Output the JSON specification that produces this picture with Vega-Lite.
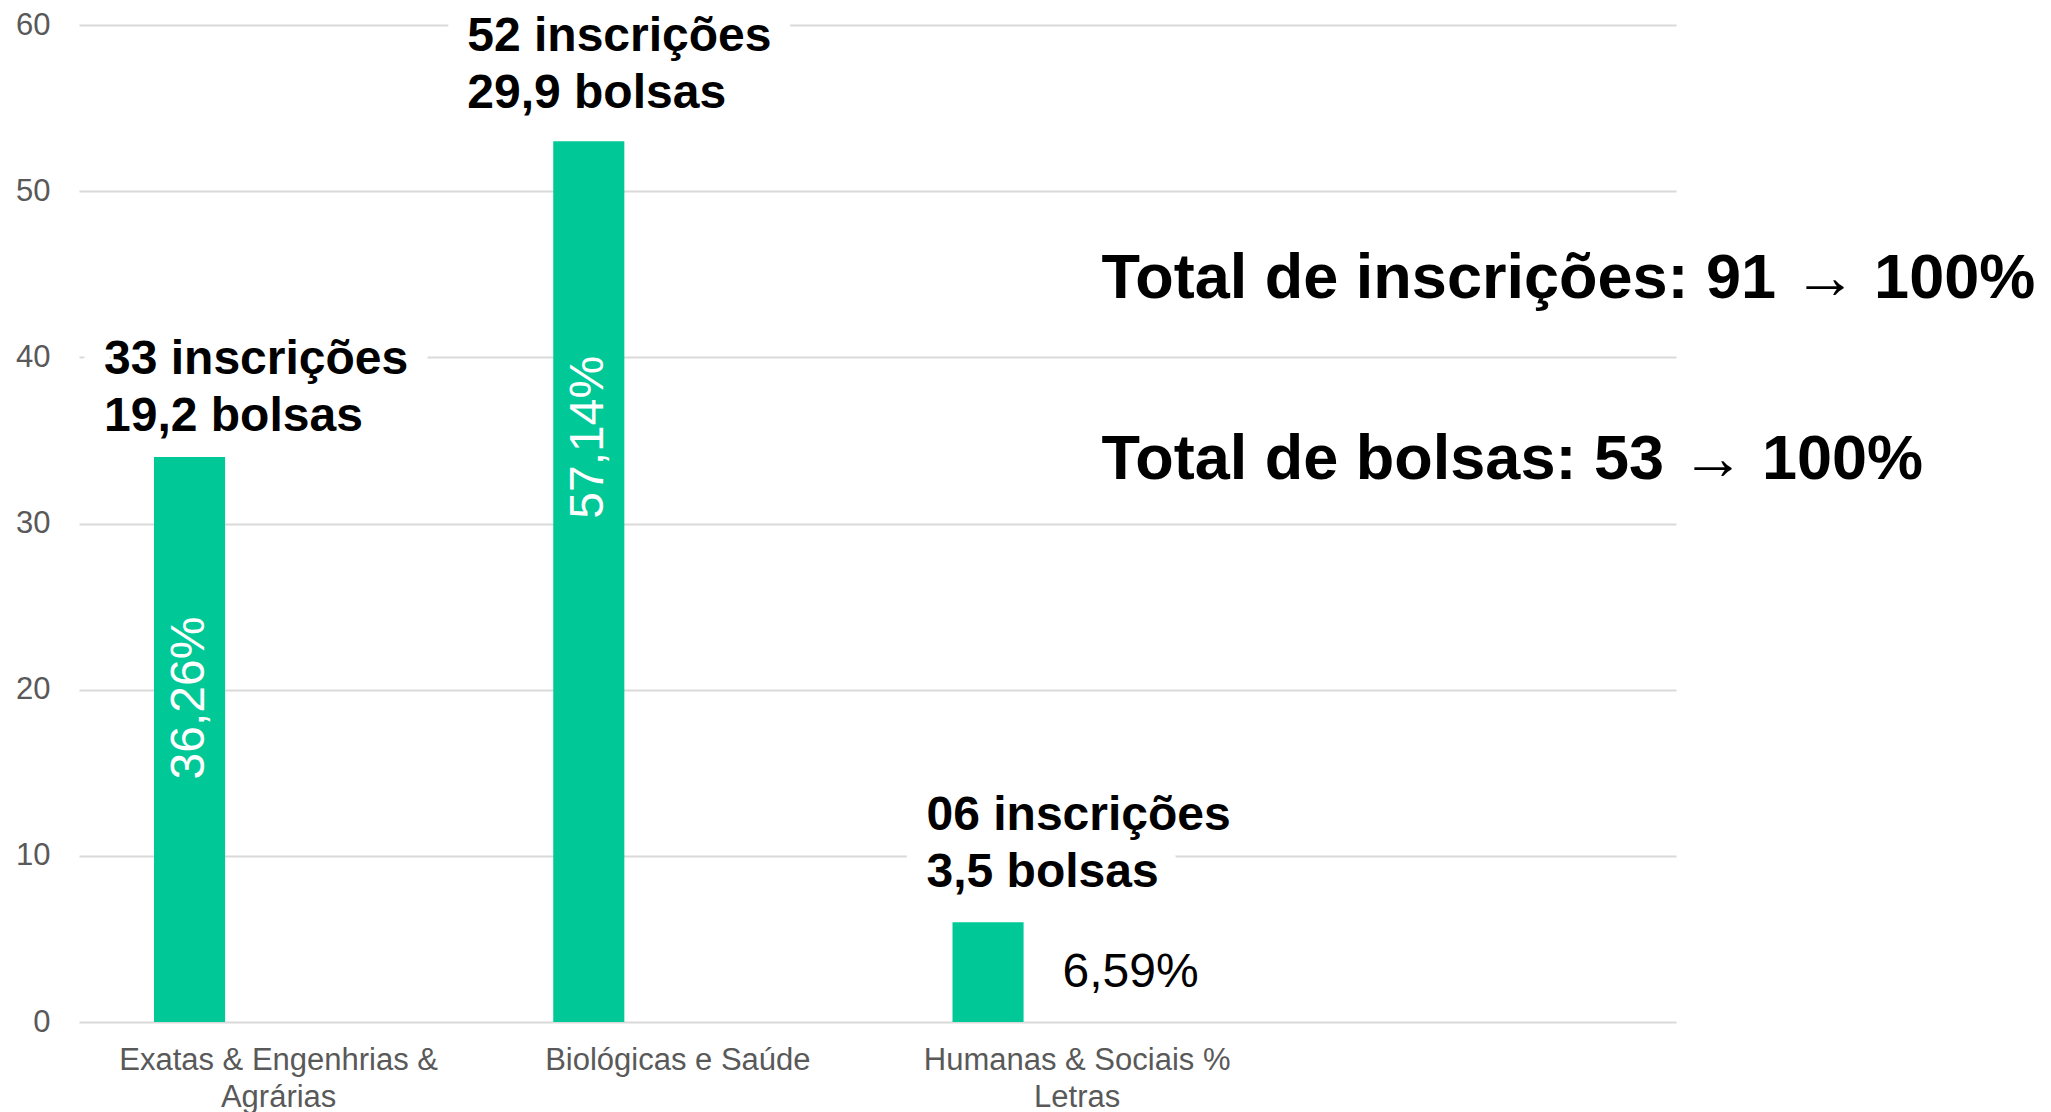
{
  "$schema": "https://vega.github.io/schema/vega-lite/v6.json",
  "autosize": {"type": "none"},
  "width": 1597,
  "height": 997,
  "padding": {"left": 79, "top": 25, "right": 375, "bottom": 90},
  "background": "white",
  "config": {"view": {"stroke": null}, "font": "Liberation Sans"},
  "datasets": {
    "areas": [
      {"area": "Exatas & Engenhrias & Agrárias", "serie": "inscrições", "valor": 34, "percentual": "36,26%", "rotulo": "33 inscrições\n19,2 bolsas"},
      {"area": "Biológicas e Saúde", "serie": "inscrições", "valor": 53, "percentual": "57,14%", "rotulo": "52 inscrições\n29,9 bolsas"},
      {"area": "Humanas & Sociais % Letras", "serie": "inscrições", "valor": 6, "percentual": "6,59%", "rotulo": "06 inscrições\n3,5 bolsas"}
    ]
  },
  "data": {"name": "areas"},
  "encoding": {
    "x": {
      "field": "area", "type": "nominal", "sort": null,
      "scale": {"paddingInner": 0, "paddingOuter": 0.5, "align": 0},
      "axis": {
        "title": null, "labelAngle": 0, "labelFontSize": 31, "labelColor": "#595959",
        "ticks": false, "tickSize": 0, "domain": false, "grid": false,
        "labelPadding": 23, "labelLimit": 0, "labelLineHeight": 37,
        "labelExpr": "datum.value == 'Exatas & Engenhrias & Agrárias' ? ['Exatas & Engenhrias &', 'Agrárias'] : datum.value == 'Humanas & Sociais % Letras' ? ['Humanas & Sociais %', 'Letras'] : datum.value"
      }
    },
    "y": {
      "field": "valor", "type": "quantitative",
      "scale": {"domain": [0, 60], "nice": false},
      "axis": {
        "title": null, "values": [0, 10, 20, 30, 40, 50, 60], "labelFontSize": 31, "labelColor": "#595959",
        "ticks": false, "tickSize": 0, "domain": false, "grid": true, "gridColor": "#D9D9D9", "gridWidth": 2,
        "labelPadding": 29
      }
    }
  },
  "layer": [
    {
      "transform": [{"filter": {"field": "area", "equal": "Exatas & Engenhrias & Agrárias"}}],
      "mark": {"type": "text", "align": "left", "baseline": "alphabetic", "fontWeight": "bold", "fontSize": 48, "lineBreak": "\n", "lineHeight": 57, "dx": -85.5, "dy": -83, "fill": "white", "stroke": "white", "strokeWidth": 44, "strokeJoin": "round"},
      "encoding": {"xOffset": {"field": "serie", "scale": {"domain": ["inscrições", "bolsas"], "paddingInner": 0.601, "paddingOuter": 0.421}}, "text": {"field": "rotulo"}}
    },
    {
      "transform": [{"filter": {"field": "area", "equal": "Biológicas e Saúde"}}],
      "mark": {"type": "text", "align": "left", "baseline": "alphabetic", "fontWeight": "bold", "fontSize": 48, "lineBreak": "\n", "lineHeight": 57, "dx": -121.5, "dy": -90, "fill": "white", "stroke": "white", "strokeWidth": 44, "strokeJoin": "round"},
      "encoding": {"xOffset": {"field": "serie", "scale": {"domain": ["inscrições", "bolsas"], "paddingInner": 0.601, "paddingOuter": 0.421}}, "text": {"field": "rotulo"}}
    },
    {
      "transform": [{"filter": {"field": "area", "equal": "Humanas & Sociais % Letras"}}],
      "mark": {"type": "text", "align": "left", "baseline": "alphabetic", "fontWeight": "bold", "fontSize": 48, "lineBreak": "\n", "lineHeight": 57, "dx": -61.5, "dy": -92, "fill": "white", "stroke": "white", "strokeWidth": 44, "strokeJoin": "round"},
      "encoding": {"xOffset": {"field": "serie", "scale": {"domain": ["inscrições", "bolsas"], "paddingInner": 0.601, "paddingOuter": 0.421}}, "text": {"field": "rotulo"}}
    },
    {
      "mark": {"type": "bar", "color": "#00C897"},
      "encoding": {"xOffset": {"field": "serie", "scale": {"domain": ["inscrições", "bolsas"], "paddingInner": 0.601, "paddingOuter": 0.421}}}
    },
    {
      "transform": [{"filter": {"field": "area", "equal": "Exatas & Engenhrias & Agrárias"}}],
      "mark": {"type": "text", "angle": 270, "align": "center", "baseline": "middle", "fontSize": 48, "color": "white", "dx": -241},
      "encoding": {"xOffset": {"field": "serie", "scale": {"domain": ["inscrições", "bolsas"], "paddingInner": 0.601, "paddingOuter": 0.421}}, "text": {"field": "percentual"}}
    },
    {
      "transform": [{"filter": {"field": "area", "equal": "Biológicas e Saúde"}}],
      "mark": {"type": "text", "angle": 270, "align": "center", "baseline": "middle", "fontSize": 48, "color": "white", "dx": -296},
      "encoding": {"xOffset": {"field": "serie", "scale": {"domain": ["inscrições", "bolsas"], "paddingInner": 0.601, "paddingOuter": 0.421}}, "text": {"field": "percentual"}}
    },
    {
      "transform": [{"filter": {"field": "area", "equal": "Humanas & Sociais % Letras"}}],
      "mark": {"type": "text", "align": "left", "baseline": "alphabetic", "fontSize": 48, "color": "black", "dx": 74.5, "dy": 65},
      "encoding": {"xOffset": {"field": "serie", "scale": {"domain": ["inscrições", "bolsas"], "paddingInner": 0.601, "paddingOuter": 0.421}}, "text": {"field": "percentual"}}
    },
    {
      "transform": [{"filter": {"field": "area", "equal": "Exatas & Engenhrias & Agrárias"}}],
      "mark": {"type": "text", "align": "left", "baseline": "alphabetic", "fontWeight": "bold", "fontSize": 48, "lineBreak": "\n", "lineHeight": 57, "dx": -85.5, "dy": -83, "color": "black"},
      "encoding": {"xOffset": {"field": "serie", "scale": {"domain": ["inscrições", "bolsas"], "paddingInner": 0.601, "paddingOuter": 0.421}}, "text": {"field": "rotulo"}}
    },
    {
      "transform": [{"filter": {"field": "area", "equal": "Biológicas e Saúde"}}],
      "mark": {"type": "text", "align": "left", "baseline": "alphabetic", "fontWeight": "bold", "fontSize": 48, "lineBreak": "\n", "lineHeight": 57, "dx": -121.5, "dy": -90, "color": "black"},
      "encoding": {"xOffset": {"field": "serie", "scale": {"domain": ["inscrições", "bolsas"], "paddingInner": 0.601, "paddingOuter": 0.421}}, "text": {"field": "rotulo"}}
    },
    {
      "transform": [{"filter": {"field": "area", "equal": "Humanas & Sociais % Letras"}}],
      "mark": {"type": "text", "align": "left", "baseline": "alphabetic", "fontWeight": "bold", "fontSize": 48, "lineBreak": "\n", "lineHeight": 57, "dx": -61.5, "dy": -92, "color": "black"},
      "encoding": {"xOffset": {"field": "serie", "scale": {"domain": ["inscrições", "bolsas"], "paddingInner": 0.601, "paddingOuter": 0.421}}, "text": {"field": "rotulo"}}
    },
    {
      "transform": [{"filter": {"field": "area", "equal": "Humanas & Sociais % Letras"}}],
      "mark": {"type": "text", "align": "left", "baseline": "alphabetic", "fontWeight": "bold", "fontSize": 63, "lineBreak": "\n", "lineHeight": 181, "dx": 24.4, "dy": -59, "color": "black", "text": "Total de inscrições: 91 → 100%\nTotal de bolsas: 53 → 100%"},
      "encoding": {"y": {"datum": 40}}
    }
  ]
}
